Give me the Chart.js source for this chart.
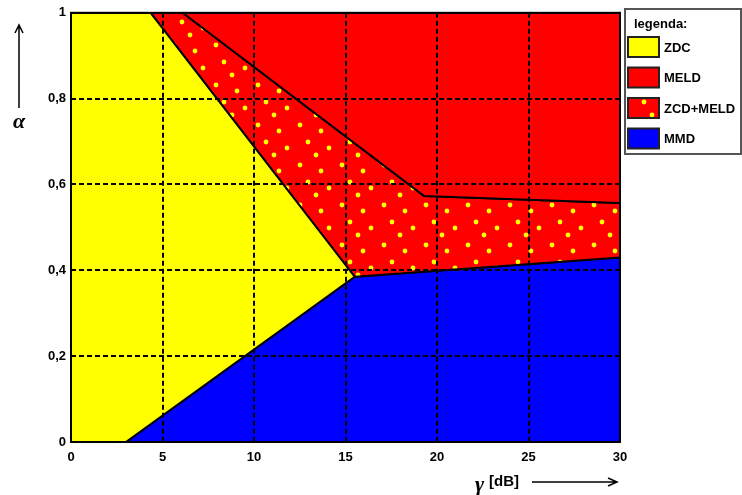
<!DOCTYPE html>
<html>
<head>
<meta charset="utf-8">
<script src="https://cdn.jsdelivr.net/npm/chart.js@4.4.0/dist/chart.umd.min.js"></script>
<style>
  html, body { margin: 0; padding: 0; background: #fff; }
</style>
</head>
<body>
<canvas id="chart" width="742" height="495"></canvas>
<script>
// axis ticks
const xTicks = [0, 5, 10, 15, 20, 25, 30];
const yTicks = [0, 0.2, 0.4, 0.6, 0.8, 1];

// regions (legend order)
const regionNames = ['ZDC', 'MELD', 'ZCD+MELD', 'MMD'];
const regionColors = ['#ffff00', '#ff0000', '#ff0000', '#0000ff'];

// polygon corners: gamma [dB] / alpha
const zdcX = [0, 0, 4.35, 15.5, 3, 0];
const zdcY = [0, 1, 1, 0.385, 0, 0];
const meldX = [6.1, 30, 30, 19.3, 6.1];
const meldY = [1, 1, 0.557, 0.573, 1];
const mixX = [4.35, 6.1, 19.3, 30, 30, 15.5, 4.35];
const mixY = [1, 1, 0.573, 0.557, 0.43, 0.385, 1];
const mmdX = [3, 15.5, 30, 30, 3];
const mmdY = [0, 0.385, 0.43, 0, 0];

const regionX = [zdcX, meldX, mixX, mmdX];
const regionY = [zdcY, meldY, mixY, mmdY];

const ctx = document.getElementById('chart').getContext('2d');

// red with yellow dots for the ZCD+MELD area
function makeDots() {
  const c = document.createElement('canvas');
  c.width = 42;
  c.height = 40;
  const g = c.getContext('2d');
  g.fillStyle = '#ff0000';
  g.fillRect(0, 0, 42, 40);
  g.fillStyle = '#ffff00';
  [[6, 5], [27, 11], [14, 22], [35, 28], [22, 35]].forEach(([x, y]) => {
    g.beginPath();
    g.arc(x, y, 2.4, 0, Math.PI * 2);
    g.fill();
  });
  return ctx.createPattern(c, 'repeat');
}
const dots = makeDots();

const tickFont = { family: "'Liberation Sans', Arial, sans-serif", size: 13, weight: 'bold' };

const framePlugin = {
  id: 'frame',
  afterDraw(chart) {
    const { ctx, chartArea: a } = chart;
    ctx.save();
    ctx.strokeStyle = '#000';
    ctx.lineWidth = 2;
    ctx.strokeRect(a.left, a.top, a.right - a.left, a.bottom - a.top);
    ctx.restore();
  }
};

const axisTitles = {
  id: 'axisTitles',
  afterDraw(chart) {
    const { ctx } = chart;
    ctx.save();
    ctx.strokeStyle = '#000';
    ctx.fillStyle = '#000';
    ctx.lineWidth = 1.5;
    // up arrow for alpha
    ctx.beginPath();
    ctx.moveTo(19, 108);
    ctx.lineTo(19, 26);
    ctx.moveTo(15, 33);
    ctx.lineTo(19, 25);
    ctx.lineTo(23, 33);
    ctx.stroke();
    ctx.font = "italic bold 22px 'Liberation Serif', serif";
    ctx.textAlign = 'center';
    ctx.textBaseline = 'middle';
    ctx.fillText('\u03b1', 19, 122);
    // right arrow for gamma
    ctx.beginPath();
    ctx.moveTo(532, 482);
    ctx.lineTo(616, 482);
    ctx.moveTo(608, 478);
    ctx.lineTo(617, 482);
    ctx.lineTo(608, 486);
    ctx.stroke();
    ctx.textAlign = 'left';
    ctx.font = "italic bold 22px 'Liberation Serif', serif";
    ctx.fillText('\u03b3', 475, 485);
    ctx.font = "bold 15px 'Liberation Sans', Arial, sans-serif";
    ctx.fillText('[dB]', 489, 482);
    ctx.restore();
  }
};

const boxLegend = {
  id: 'boxLegend',
  afterDraw(chart) {
    const { ctx } = chart;
    const sets = chart.data.datasets;
    ctx.save();
    ctx.strokeStyle = '#555';
    ctx.lineWidth = 2;
    ctx.strokeRect(625, 9, 116, 145);
    ctx.fillStyle = '#000';
    ctx.font = "bold 13px 'Liberation Sans', Arial, sans-serif";
    ctx.textBaseline = 'middle';
    ctx.fillText('legenda:', 634, 24);
    sets.forEach((ds, i) => {
      const y = 37 + i * 30.5;
      ctx.fillStyle = ds.backgroundColor;
      ctx.fillRect(628, y, 31, 20);
      ctx.strokeStyle = '#222';
      ctx.lineWidth = 2;
      ctx.strokeRect(628, y, 31, 20);
      ctx.fillStyle = '#000';
      ctx.fillText(ds.label, 664, y + 11);
    });
    ctx.restore();
  }
};

new Chart(ctx, {
  type: 'scatter',
  data: {
    datasets: regionNames.map((name, i) => ({
      label: name,
      data: regionX[i].map((x, j) => ({ x, y: regionY[i][j] })),
      showLine: true,
      fill: 'shape',
      backgroundColor: i === 2 ? dots : regionColors[i],
      borderColor: '#000',
      borderWidth: 2,
      pointRadius: 0,
      tension: 0
    }))
  },
  options: {
    responsive: false,
    animation: false,
    devicePixelRatio: 1,
    layout: { padding: { top: 11, right: 122, left: 0, bottom: 0 } },
    scales: {
      x: {
        type: 'linear',
        min: xTicks[0],
        max: xTicks[xTicks.length - 1],
        afterBuildTicks: s => { s.ticks = xTicks.map(v => ({ value: v })); },
        afterFit: s => { s.height = 53; },
        ticks: { color: '#000', font: tickFont, padding: 8, maxRotation: 0, z: 1 },
        grid: { color: '#000', lineWidth: 2, drawTicks: false, z: 1 },
        border: { display: false, dash: [5, 3] }
      },
      y: {
        type: 'linear',
        min: yTicks[0],
        max: yTicks[yTicks.length - 1],
        afterBuildTicks: s => { s.ticks = yTicks.map(v => ({ value: v })); },
        afterFit: s => { s.width = 71; },
        ticks: {
          color: '#000',
          font: tickFont,
          padding: 5,
          z: 1,
          callback: v => String(Math.round(v * 10) / 10).replace('.', ',')
        },
        grid: { color: '#000', lineWidth: 2, drawTicks: false, z: 1 },
        border: { display: false, dash: [5, 3] }
      }
    },
    plugins: {
      legend: { display: false },
      tooltip: { enabled: false }
    }
  },
  plugins: [framePlugin, axisTitles, boxLegend]
});
</script>
</body>
</html>
